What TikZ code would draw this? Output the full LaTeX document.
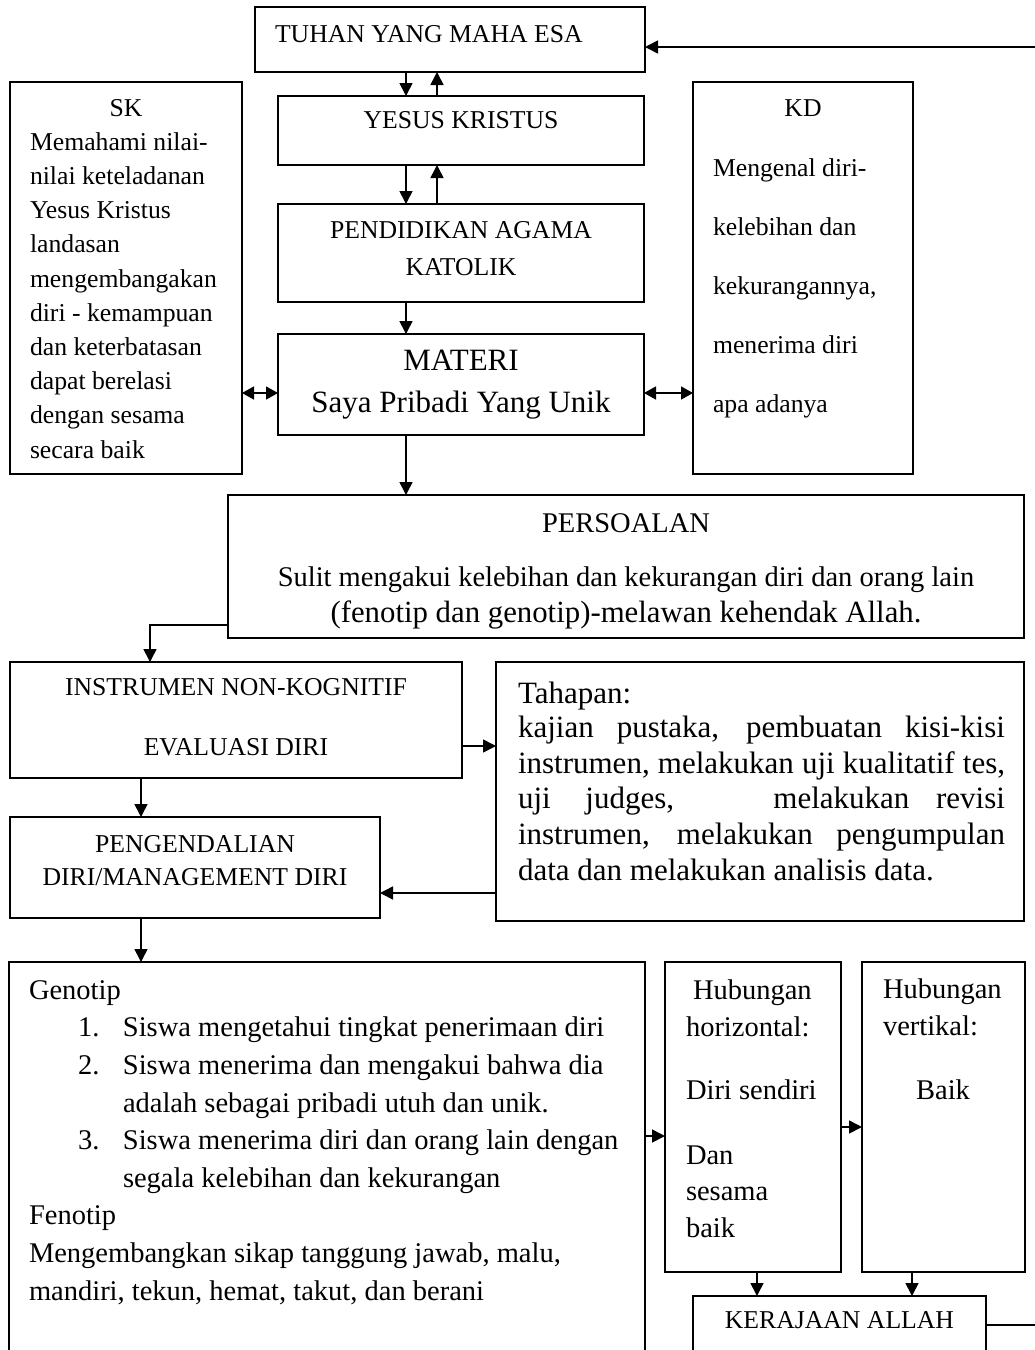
\documentclass[tikz,border=0pt]{standalone}
\usepackage{fontspec}
\setmainfont{Liberation Serif}
\usetikzlibrary{arrows.meta}
\newcommand\fsA{\fontsize{25.7}{34.2}\selectfont}
\newcommand\fsB{\fontsize{28.5}{36.5}\selectfont}
\newcommand\fsC{\fontsize{31}{35.6}\selectfont}
\tikzset{
  box/.style={draw, line width=1.6pt, anchor=north west, inner sep=0pt, outer sep=0pt},
  txt/.style={inner sep=0pt, outer sep=0pt},
  arr/.style={line width=1.6pt, -{Triangle[length=13pt,width=13pt]}},
  darr/.style={line width=1.6pt, {Triangle[length=12pt,width=13pt]}-{Triangle[length=12pt,width=13pt]}},
  ln/.style={line width=1.6pt}
}
\begin{document}
\begin{tikzpicture}[x=1pt,y=-1pt]
\useasboundingbox (0,0) rectangle (1035,1350);
\clip (0,0) rectangle (1035,1350);
% boxes
\node[box, minimum width=390pt, minimum height=65pt] (tuhan) at (255,7) {};
\node[box, minimum width=366pt, minimum height=69pt] (yesus) at (278,96) {};
\node[box, minimum width=366pt, minimum height=98pt] (pend) at (278,204) {};
\node[box, minimum width=366pt, minimum height=101pt] (materi) at (278,334) {};
\node[box, minimum width=232pt, minimum height=392pt] (sk) at (10,82) {};
\node[box, minimum width=220pt, minimum height=392pt] (kd) at (693,82) {};
\node[box, minimum width=796pt, minimum height=143pt] (pers) at (228,495) {};
\node[box, minimum width=452pt, minimum height=116pt] (instr) at (10,662) {};
\node[box, minimum width=528pt, minimum height=259pt] (tahap) at (496,662) {};
\node[box, minimum width=370pt, minimum height=101pt] (peng) at (10,817) {};
\node[box, minimum width=636pt, minimum height=420pt] (geno) at (9,962) {};
\node[box, minimum width=176pt, minimum height=310pt] (hubh) at (665,962) {};
\node[box, minimum width=163pt, minimum height=310pt] (hubv) at (862,962) {};
\node[box, minimum width=293pt, minimum height=58pt] (kera) at (693,1296) {};
% texts (multi-line nodes anchored at the baseline of their last line)
\node[txt, anchor=base west, font=\fsA] (ttuhan) at (275,42) {TUHAN YANG MAHA ESA};
\node[txt, anchor=base, font=\fsA] (tyesus) at (461,128.5) {YESUS KRISTUS};
\node[txt, anchor=base, align=center, font=\fontsize{25.7}{37}\selectfont] (tpend) at (461,275.5) {PENDIDIKAN AGAMA\\KATOLIK};
\node[txt, anchor=base, align=center, font=\fontsize{31}{42}\selectfont] (tmateri) at (461,412) {MATERI\\Saya Pribadi Yang Unik};
\node[txt, anchor=base, font=\fsA] (tsk) at (126,116) {SK};
\node[txt, anchor=base west, align=left, font=\fsA] (tskb) at (30,458) {Memahami nilai-\\nilai keteladanan\\Yesus Kristus\\landasan\\mengembangakan\\diri - kemampuan\\dan keterbatasan\\dapat berelasi\\dengan sesama\\secara baik};
\node[txt, anchor=base, font=\fsA] (tkd) at (803,116) {KD};
\node[txt, anchor=base west, align=left, font=\fontsize{25.7}{59}\selectfont] (tkdb) at (713,412) {Mengenal diri-\\kelebihan dan\\kekurangannya,\\menerima diri\\apa adanya};
\node[txt, anchor=base, align=center, font=\fontsize{28.5}{36}\selectfont] (tpers) at (626,622) {PERSOALAN\\[18pt]Sulit mengakui kelebihan dan kekurangan diri dan orang lain\\{\fontsize{30.8}{36}\selectfont (fenotip dan genotip)-melawan kehendak Allah.}};
\node[txt, anchor=base, align=center, font=\fontsize{25.7}{60}\selectfont] (tinstr) at (236,755.5) {INSTRUMEN NON-KOGNITIF\\EVALUASI DIRI};
\node[txt, anchor=base, align=center, font=\fontsize{25.7}{33}\selectfont] (tpeng) at (195,885.5) {PENGENDALIAN\\DIRI/MANAGEMENT DIRI};
\node[txt, anchor=base west, align=left, font=\fsC] (ttahap) at (518,880) {Tahapan:\\[-1.5pt]%
\makebox[487pt][s]{kajian pustaka, pembuatan kisi-kisi}\\
\makebox[487pt][s]{instrumen, melakukan uji kualitatif tes,}\\
\makebox[487pt][s]{uji\hspace{30pt plus 1fil}judges,\hspace{85pt plus 3fil}melakukan\hspace{22pt plus 1fil}revisi}\\
\makebox[487pt][s]{instrumen, melakukan pengumpulan}\\
data dan melakukan analisis data.};
\node[txt, anchor=base west, align=left, font=\fontsize{28.5}{37.6}\selectfont] (tgeno) at (29,1300) {Genotip\\
\hspace*{49pt}\makebox[45pt][l]{1.}Siswa mengetahui tingkat penerimaan diri\\
\hspace*{49pt}\makebox[45pt][l]{2.}Siswa menerima dan mengakui bahwa dia\\
\hspace*{94pt}adalah sebagai pribadi utuh dan unik.\\
\hspace*{49pt}\makebox[45pt][l]{3.}Siswa menerima diri dan orang lain dengan\\
\hspace*{94pt}segala kelebihan dan kekurangan\\
Fenotip\\
Mengembangkan sikap tanggung jawab, malu,\\
mandiri, tekun, hemat, takut, dan berani};
\node[txt, anchor=base west, font=\fsB] (thh1) at (693,999) {Hubungan};
\node[txt, anchor=base west, align=left, font=\fsB] (thh2) at (686,1237) {horizontal:\\[27pt]Diri sendiri\\[28pt]Dan\\sesama\\baik};
\node[txt, anchor=base west, align=left, font=\fsB] (thv1) at (883,1035) {Hubungan\\vertikal:};
\node[txt, anchor=base, font=\fsB] (thv2) at (943,1099) {Baik};
\node[txt, anchor=base, font=\fsA] (tkera) at (839.5,1328.5) {KERAJAAN ALLAH};
% helper coordinates
\coordinate (xa) at (406,0);
\coordinate (xb) at (437,0);
\coordinate (xc) at (150,0);
\coordinate (xd) at (141,0);
\coordinate (xe) at (757,0);
\coordinate (xf) at (912,0);
\coordinate (ya) at (0,393);
\coordinate (yb) at (0,625);
\coordinate (yc) at (0,746);
\coordinate (yd) at (0,893);
\coordinate (ye) at (0,1136);
\coordinate (yf) at (0,1127);
\coordinate (rt) at (1042,47);
\coordinate (rb) at (1042,1325);
% connectors
\draw[arr] (tuhan.south -| xa) -- (yesus.north -| xa);
\draw[arr] (yesus.north -| xb) -- (tuhan.south -| xb);
\draw[arr] (yesus.south -| xa) -- (pend.north -| xa);
\draw[arr] (pend.north -| xb) -- (yesus.south -| xb);
\draw[arr] (pend.south -| xa) -- (materi.north -| xa);
\draw[darr] (sk.east |- ya) -- (materi.west |- ya);
\draw[darr] (materi.east |- ya) -- (kd.west |- ya);
\draw[arr] (materi.south -| xa) -- (pers.north -| xa);
\draw[arr] (pers.west |- yb) -| (instr.north -| xc);
\draw[arr] (instr.east |- yc) -- (tahap.west |- yc);
\draw[arr] (instr.south -| xd) -- (peng.north -| xd);
\draw[arr] (tahap.west |- yd) -- (peng.east |- yd);
\draw[arr] (peng.south -| xd) -- (geno.north -| xd);
\draw[arr] (geno.east |- ye) -- (hubh.west |- ye);
\draw[arr] (hubh.east |- yf) -- (hubv.west |- yf);
\draw[arr] (hubh.south -| xe) -- (kera.north -| xe);
\draw[arr] (hubv.south -| xf) -- (kera.north -| xf);
\draw[ln] (kera.east |- rb) -- (rb) -- (rt);
\draw[arr] (rt) -- (tuhan.east |- rt);
\end{tikzpicture}
\end{document}
